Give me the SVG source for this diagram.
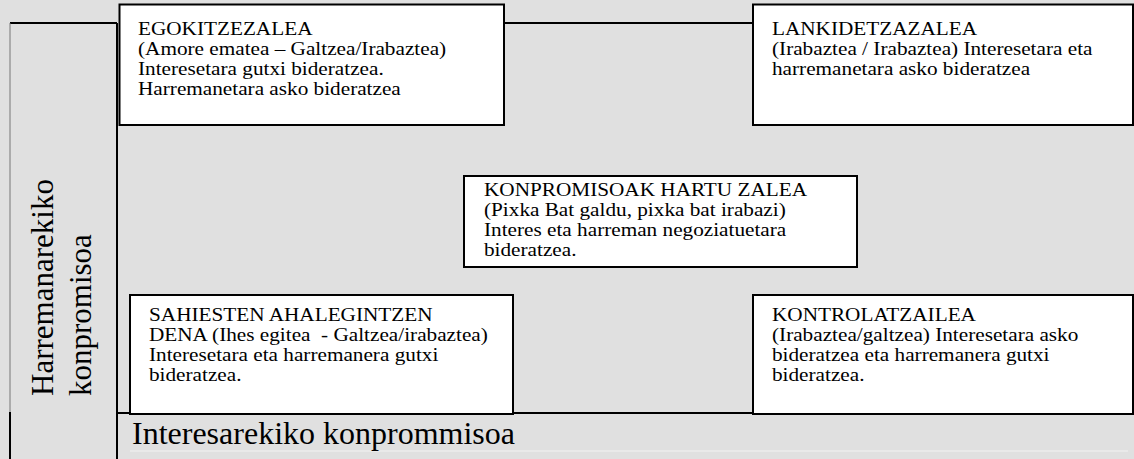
<svg xmlns="http://www.w3.org/2000/svg" width="1134" height="459" viewBox="0 0 1134 459">
<style>
.bg{fill:#e0e0e0}
.box{fill:#ffffff;stroke:#000000;stroke-width:2}
.ln{stroke:#000000;stroke-width:2;fill:none}
.t{font-family:"Liberation Serif","Times New Roman",serif;font-size:18px;fill:#000000;white-space:pre}
.lbl{font-family:"Liberation Serif","Times New Roman",serif;font-size:31px;fill:#000000}
</style>
<rect class="bg" x="0" y="0" width="1134" height="459"/>
<g id="connectors">
<line class="ln" x1="10" y1="23" x2="117" y2="23"/>
<line x1="10" y1="23" x2="10" y2="412" stroke="#777777" stroke-width="1"/>
<line class="ln" x1="10" y1="412" x2="10" y2="459"/>
<line class="ln" x1="117" y1="23" x2="117" y2="459"/>
<line class="ln" x1="504" y1="23" x2="753" y2="23"/>
<line class="ln" x1="117" y1="413" x2="753" y2="413"/>
<line x1="130" y1="451" x2="1128" y2="451" stroke="#f2f2f2" stroke-width="1"/>
</g>
<g id="axis-y">
<text class="lbl" transform="translate(53,396) rotate(-90)"><tspan x="0" y="0">Harremanarekiko</tspan><tspan x="0" y="38">konpromisoa</tspan></text>
</g>
<g id="axis-x">
<text class="lbl" x="132" y="444" style="font-size:32px">Interesarekiko konprommisoa</text>
</g>
<g id="egokitzezalea">
<rect class="box" x="119.5" y="4.5" width="384.5" height="120.5"/>
<text class="t" transform="translate(138,35) scale(1.18,1)"><tspan x="0" y="0">EGOKITZEZALEA</tspan><tspan x="0" y="20">(Amore ematea – Galtzea/Irabaztea)</tspan><tspan x="0" y="40">Interesetara gutxi bideratzea.</tspan><tspan x="0" y="60">Harremanetara asko bideratzea</tspan></text>
</g>
<g id="lankidetzazalea">
<rect class="box" x="753" y="4.5" width="380" height="120.5"/>
<text class="t" transform="translate(772,35) scale(1.18,1)"><tspan x="0" y="0">LANKIDETZAZALEA</tspan><tspan x="0" y="20">(Irabaztea / Irabaztea) Interesetara eta</tspan><tspan x="0" y="40">harremanetara asko bideratzea</tspan></text>
</g>
<g id="konpromisoak">
<rect class="box" x="464" y="176" width="393" height="91"/>
<text class="t" transform="translate(484,196) scale(1.18,1)"><tspan x="0" y="0">KONPROMISOAK HARTU ZALEA</tspan><tspan x="0" y="20">(Pixka Bat galdu, pixka bat irabazi)</tspan><tspan x="0" y="40">Interes eta harreman negoziatuetara</tspan><tspan x="0" y="60">bideratzea.</tspan></text>
</g>
<g id="sahiesten">
<rect class="box" x="130" y="295" width="383" height="119"/>
<text class="t" transform="translate(149,321) scale(1.18,1)"><tspan x="0" y="0">SAHIESTEN AHALEGINTZEN</tspan><tspan x="0" y="20">DENA (Ihes egitea  - Galtzea/irabaztea)</tspan><tspan x="0" y="40">Interesetara eta harremanera gutxi</tspan><tspan x="0" y="60">bideratzea.</tspan></text>
</g>
<g id="kontrolatzailea">
<rect class="box" x="753" y="295" width="380" height="119"/>
<text class="t" transform="translate(772,321) scale(1.18,1)"><tspan x="0" y="0">KONTROLATZAILEA</tspan><tspan x="0" y="20">(Irabaztea/galtzea) Interesetara asko</tspan><tspan x="0" y="40">bideratzea eta harremanera gutxi</tspan><tspan x="0" y="60">bideratzea.</tspan></text>
</g>
</svg>
